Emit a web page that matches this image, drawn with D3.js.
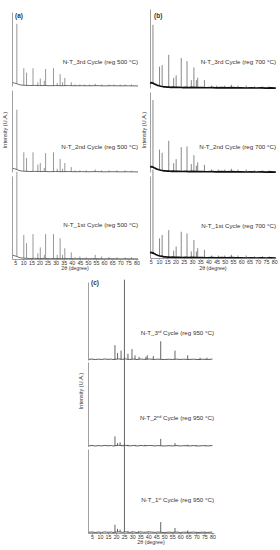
<!DOCTYPE html>
<html lang="en">
<head>
<meta charset="UTF-8">
<script src="https://d3js.org/d3.v7.min.js"></script>
<title>XRD regeneration cycles</title>
<style>
  body { margin: 0; background: #fff; }
  text { font-family: "Liberation Sans", Arial, sans-serif; fill: #333; }
</style>
</head>
<body>
<svg id="chart" width="280" height="550"></svg>
<script>
// tick labels, names
const xTicks = [5, 10, 15, 20, 25, 30, 35, 40, 45, 50, 55, 60, 65, 70, 75, 80];
const cycleNames = ["3rd", "2nd", "1st"];
const panelNames = ["(a)", "(b)", "(c)"];
const regTemps = ["500", "700", "950"];

// peaks: [2theta, intensity] (0-100 = one pattern strip)
const peaksA3 = [[6,84],[10.3,24],[12,18],[16,24],[19,5],[20.5,10],[23,7],[23.8,23],[28.7,24],[31,4],[32.8,16],[34.3,5],[35.7,11],[39.7,5],[42,2],[45,2],[48,2],[51,2],[54.5,3],[58.5,2],[63,2],[66,2],[70,2],[73,2],[77,2]];
const peaksA2 = [[6,76],[10.3,24],[12,17],[16,24],[19,9],[20.5,11],[23,5],[23.8,23],[28.7,24],[31,4],[32.8,16],[34.3,4],[35.7,11],[39.7,6],[42,2],[45,2],[49,2],[54.5,3],[58.5,2],[63,2],[68,2],[73,2],[77,1.5]];
const peaksA1 = [[6,105],[10.3,29],[12,19],[16,30],[19,7],[20.5,14],[23,5],[23.8,30],[28.7,30],[31,5],[32.8,25],[34.3,5],[35.7,13],[39.7,8],[42,2],[45,3],[49,2],[54.5,5],[58.5,3],[63,2.5],[68,2],[73,2],[77,2]];

const peaksB3 = [[6.3,80],[10.3,27],[11.9,29],[15.9,42],[18.9,13],[20.4,16],[23.5,38],[27,34],[29.6,10],[31.2,26],[32.7,10],[33.5,13],[37.6,10],[42,3],[45,3],[50,3],[54,4],[58,3],[63,3],[68,2],[73,2],[77,2]];
const peaksB2 = [[6.3,90],[10.3,28],[11.9,24],[15.9,39],[18.9,11],[20.4,16],[23.5,31],[27,32],[29.6,10],[31.2,21],[32.7,8],[33.5,12],[37.6,9],[42,3],[46,3],[50,3],[54,4],[58,3],[63,3],[68,2],[73,2],[77,2]];
const peaksB1 = [[6.3,108],[10.3,24],[11.9,28],[15.9,34],[18.9,9],[20.4,14],[23.5,32],[27,30],[29.6,8],[31.2,22],[32.7,8],[33.5,12],[37.6,10],[42,3],[46,3],[50,3],[54,4],[58,3],[63,3],[68,2],[73,2],[77,2]];

const peaksC3 = [[19.3,19],[20.9,9],[23.1,12],[25.2,103],[27.4,8],[29.9,14],[31.8,6],[34.3,4],[38.6,4],[39.4,6],[43.2,5],[47.8,24],[56.7,12],[64.6,6],[72.3,3],[76.6,3]];
const peaksC2 = [[19.3,12],[20.9,4],[22.5,5],[23.7,2],[25.2,106],[27.4,2],[31.8,2],[38,2],[47.8,9],[56.7,4],[64.6,2],[70,1.5],[76,1.5]];
const peaksC1 = [[19.3,10],[20.9,5],[22.5,4],[25.2,106],[27.4,2],[30,2],[34,2],[40,2],[47.8,13],[56.7,6],[64.6,3],[75,1.5]];

// backgrounds: [2theta, intensity]
const bgA = [[3.5,4.5],[4.5,4],[5.5,3.4],[7,2.2],[8,1.6],[9,1.2],[10,1],[12,0.8],[14,0.6],[17,0.8],[20,0.5],[23,0.7],[26,0.4],[30,0.6],[34,0.4],[38,0.6],[42,0.3],[46,0.5],[50,0.3],[55,0.5],[60,0.2],[65,0.4],[70,0.2],[75,0.3],[81,0.1]];
const bgB = [[4.6,7],[5,6.4],[5.5,6.8],[6,6],[6.5,6.2],[7,5.2],[7.5,5],[8,4.2],[8.5,3.9],[9,3.4],[10,2.8],[11,2.2],[12,1.9],[13,1.4],[14,1.5],[15,1.1],[16,1.2],[17,0.9],[18,1],[20,0.7],[22,0.9],[24,0.6],[26,0.8],[28,0.5],[30,0.7],[33,0.4],[36,0.6],[39,0.3],[42,0.5],[45,0.2],[48,0.4],[51,0.2],[54,0.4],[57,0.1],[60,0.3],[63,0],[66,0.2],[69,0],[72,0.2],[75,-0.1],[78,0.1],[81,-0.1]];
const bgC = [[3,0.8],[5,1.2],[7,0.6],[9,1.1],[11,0.7],[13,1.3],[15,0.8],[17,1.2],[18,0.6],[21.5,1.4],[24,0.8],[26,1.3],[28.5,0.7],[31,1.2],[33,0.6],[35.5,1.3],[37,0.8],[41,1.2],[44.5,0.7],[46,1.1],[50,0.6],[53,1],[55,0.7],[58,1.1],[60,0.6],[62,1],[66,0.7],[68,1.1],[71,0.6],[74,1],[77,0.7],[80,1.1]];

const svg = d3.select("#chart");

const panels = [
    { name: panelNames[0], temp: regTemps[0], peaks: [peaksA3, peaksA2, peaksA1], bg: bgA,
      domain: [3, 81], range: [12, 138], bands: [[12, 86], [90, 172], [176, 259]],
      labelX: 138, labelY: [64, 149, 227], yLab: [5, 130], nameXY: [15, 18], sup: false,
      peakColor: "#8c8c8c", bgColor: "#444", bgWidth: 0.8, titleY: 270 },
    { name: panelNames[1], temp: regTemps[1], peaks: [peaksB3, peaksB2, peaksB1], bg: bgB,
      domain: [4.5, 81], range: [150, 275.8], bands: [[9, 88], [92, 172], [176, 258]],
      labelX: 276, labelY: [64, 149, 228], yLab: [144, 130], nameXY: [154, 18], sup: false,
      peakColor: "#7a7a7a", bgColor: "#111", bgWidth: 1.7, titleY: 270 },
    { name: panelNames[2], temp: regTemps[2], peaks: [peaksC3, peaksC2, peaksC1], bg: bgC,
      domain: [2.5, 81], range: [88, 214], bands: [[282, 360], [362, 446.5], [449, 533]],
      labelX: 214, labelY: [335, 420, 502], yLab: [81, 391], nameXY: [91, 285], sup: true,
      peakColor: "#555", bgColor: "#333", bgWidth: 0.8, titleY: 544 }
];

panels.forEach(function(p) {
    const x = d3.scaleLinear().domain(p.domain).range(p.range);
    const g = svg.append("g");

    p.peaks.forEach(function(peaks, i) {
        const band = p.bands[i];
        const y = d3.scaleLinear().domain([0, 100]).range([band[1], band[0]]);
        const baseAt = pos => d3.least(p.bg, b => Math.abs(b[0] - pos))[1];

        // left axis line of the strip
        const ya = g.append("g")
            .attr("transform", "translate(" + p.range[0] + ",0)")
            .call(d3.axisLeft(y).ticks(0).tickSizeOuter(0));
        ya.select(".domain").attr("stroke", "#888").attr("stroke-width", 0.8);

        g.append("g").selectAll("line")
            .data(peaks)
            .join("line")
            .attr("x1", d => x(d[0]))
            .attr("x2", d => x(d[0]))
            .attr("y1", d => y(baseAt(d[0])))
            .attr("y2", d => y(d[1]))
            .attr("stroke", p.peakColor)
            .attr("stroke-width", 0.9);

        g.append("path")
            .datum(p.bg)
            .attr("fill", "none")
            .attr("stroke", p.bgColor)
            .attr("stroke-width", p.bgWidth)
            .attr("stroke-linejoin", "round")
            .attr("d", d3.line().x(d => x(d[0])).y(d => y(d[1])));

        // pattern label
        const num = cycleNames[i].slice(0, 1), suf = cycleNames[i].slice(1);
        const t = g.append("text")
            .attr("x", p.labelX)
            .attr("y", p.labelY[i])
            .attr("text-anchor", "end")
            .attr("font-size", 6.2);
        if (p.sup) {
            t.append("tspan").text("N-T_" + num);
            t.append("tspan").attr("font-size", 3.8).attr("dy", -2.2).text(suf);
            t.append("tspan").attr("dy", 2.2).text(" Cycle (reg " + p.temp + " °C)");
        } else {
            t.text("N-T_" + cycleNames[i] + " Cycle (reg " + p.temp + " °C)");
        }

        if (i === 2) {
            const xa = g.append("g")
                .attr("transform", "translate(0," + band[1] + ")")
                .call(d3.axisBottom(x).tickValues(xTicks).tickSize(1.5).tickSizeOuter(0).tickPadding(1));
            xa.select(".domain").attr("stroke", "#888").attr("stroke-width", 0.8);
            xa.selectAll(".tick line").attr("stroke", "#888");
            xa.selectAll("text").attr("font-size", 5.3).attr("fill", "#333")
                .style("font-family", "'Liberation Sans', Arial, sans-serif");
        }
    });

    g.append("text")
        .attr("x", (p.range[0] + p.range[1]) / 2)
        .attr("y", p.titleY)
        .attr("text-anchor", "middle")
        .attr("font-size", 5.3)
        .text("2θ (degree)");

    g.append("text")
        .attr("transform", "translate(" + p.yLab[0] + "," + p.yLab[1] + ") rotate(-90)")
        .attr("text-anchor", "middle")
        .attr("dy", "0.35em")
        .attr("font-size", 5.5)
        .text("Intensity (U.A.)");

    g.append("text")
        .attr("x", p.nameXY[0])
        .attr("y", p.nameXY[1])
        .attr("font-size", 6.5)
        .attr("font-weight", "bold")
        .text(p.name);
});
</script>
</body>
</html>
